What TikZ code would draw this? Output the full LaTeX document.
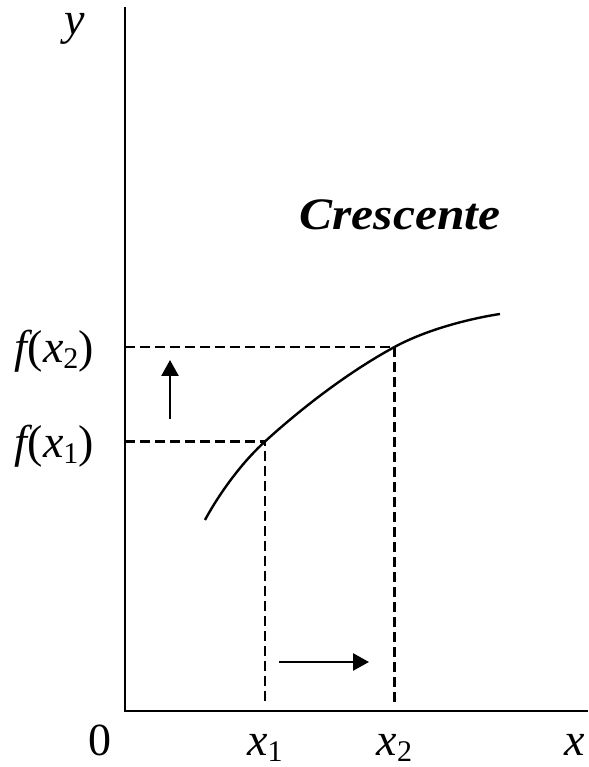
\documentclass[tikz,border=0pt]{standalone}
\usepackage{fontspec}
\setmainfont{Liberation Serif}[
  BoldFont={Liberation Serif Bold},
  ItalicFont={Liberation Serif Italic},
  BoldItalicFont={Liberation Serif Bold Italic}]
\usetikzlibrary{arrows.meta}
\newcommand\subsc[1]{\raisebox{-0.12em}{\fontsize{30}{30}\selectfont #1}}
\begin{document}
\begin{tikzpicture}[x=1pt,y=1pt,
  axis/.style={line width=2.4pt},
  guide/.style={line width=2.3pt,dash pattern=on 10pt off 5pt},
  curve/.style={line width=2.4pt},
  moveArrow/.style={line width=2.6pt,-{Triangle[length=16pt,width=17pt]}},
  lbl/.style={inner sep=0pt,font=\fontsize{46}{46}\selectfont},
  title/.style={inner sep=0pt,font=\fontsize{45}{45}\selectfont\bfseries\itshape}]
\useasboundingbox (0,0) rectangle (588,767);
% axes
\coordinate (O) at (125,56);
\coordinate (Ytop) at (125,760);
\coordinate (Xend) at (588,56);
\draw[axis] (Ytop) -- (O) -- (Xend);
% curve points
\coordinate (C0) at (205,247);
\coordinate (P1) at (265,325.5);
\coordinate (P2) at (394.5,420);
\coordinate (C9) at (500,453);
\draw[curve] plot[smooth,tension=0.7] coordinates {(C0) (P1) (P2) (C9)};
% guides
\coordinate (Y1) at (125,325.5);
\coordinate (Y2) at (125,420);
\coordinate (X1) at (265,61);
\coordinate (X2) at (394.5,64);
\draw[guide] (Y2) -- (P2) -- (X2);
\draw[guide] (Y1) -- (P1) -- (X1);
% arrows
\coordinate (UA) at (170,348);
\coordinate (UB) at (170,407);
\draw[moveArrow] (UA) -- (UB);
\coordinate (RA) at (279,105);
\coordinate (RB) at (369,105);
\draw[moveArrow] (RA) -- (RB);
% labels
\node[lbl,anchor=base] (ylab) at (75,732) {\itshape y};
\node[lbl,anchor=base] (xlab) at (575,11) {\itshape x};
\node[lbl,anchor=base] (zero) at (100,11) {0};
\node[lbl,anchor=base] (x1lab) at (265,11) {\itshape x\subsc{\upshape 1}};
\node[lbl,anchor=base] (x2lab) at (394.5,11) {\itshape x\subsc{\upshape 2}};
\node[lbl,anchor=base east] (fx2) at (94,404) {\itshape f\upshape(\itshape x\subsc{\upshape 2}\upshape)};
\node[lbl,anchor=base east] (fx1) at (94,309) {\itshape f\upshape(\itshape x\subsc{\upshape 1}\upshape)};
\node[title,anchor=base] (cres) at (400,537) {\scalebox{1.1}[1]{Crescente}};
\end{tikzpicture}
\end{document}
